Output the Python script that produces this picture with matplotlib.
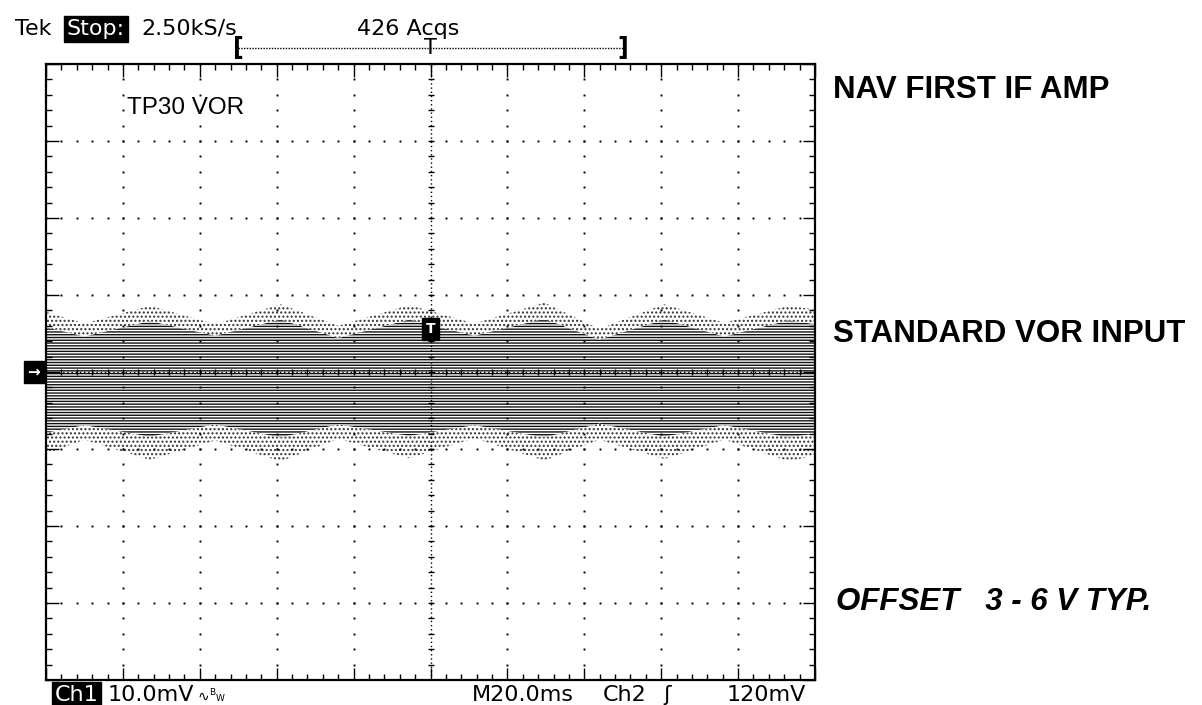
import numpy as np
import matplotlib
matplotlib.use("Agg")
import matplotlib.pyplot as plt
from matplotlib import transforms

# ---------------- data ----------------
# time axis in ms (20 ms/div, 10 div), amplitude in mV (10 mV/div, 8 div)
t_env = [-100, -90, -73, -56, -39, -24, -5.5, 11.4, 29.6, 43.9, 60.8, 76.4, 93.2, 100]
outer_top = [7.8, 6.3, 8.6, 6.2, 8.8, 6.0, 8.7, 6.3, 9.0, 5.6, 8.8, 6.4, 8.6, 8.1]
core_top = [5.8, 4.6, 6.6, 4.7, 6.8, 4.4, 6.8, 4.7, 6.9, 4.2, 6.8, 4.6, 6.7, 6.2]
core_bot = [-7.9, -6.9, -8.4, -6.8, -8.5, -6.8, -8.3, -6.9, -8.5, -6.7, -8.4, -6.9, -8.5, -8.0]
outer_bot = [-10.6, -8.8, -11.4, -8.9, -11.6, -8.7, -11.2, -8.6, -11.5, -8.8, -11.3, -8.8, -11.6, -10.8]

trigger_pos_ms = 0.0
trigger_level_mv = 5.6
record_window_ms = [-50, 50]

header_left = ["Tek", "Stop:", "2.50kS/s"]
header_acqs = "426 Acqs"
footer_items = ["Ch1", "10.0mV", "M20.0ms", "Ch2", "120mV"]
probe_label = "TP30 VOR"
side_labels = ["NAV FIRST IF AMP", "STANDARD VOR INPUT", "OFFSET   3 - 6 V TYP."]

# ---------------- figure ----------------
W, H = 1202, 705
fig = plt.figure(figsize=(W / 100, H / 100), dpi=100)
fig.patch.set_facecolor("white")
L, R, T, B = 46, 815, 64, 680
ax = fig.add_axes([L / W, 1 - B / H, (R - L) / W, (B - T) / H])
ax.set_xlim(-100, 100)
ax.set_ylim(-40, 40)
ax.set_facecolor("white")

def px(x, y):
    return x / W, 1 - y / H

plt.rcParams["hatch.linewidth"] = 1.0

# signal band: sparse outer fringe and dense core
ax.fill_between(t_env, core_top, outer_top, facecolor="white", edgecolor="#333333",
                hatch="....", linewidth=0, zorder=1)
ax.fill_between(t_env, outer_bot, core_bot, facecolor="white", edgecolor="#333333",
                hatch="....", linewidth=0, zorder=1)
ax.fill_between(t_env, core_bot, core_top, facecolor="white", edgecolor="#111111",
                hatch="------", linewidth=0, zorder=1)

# graticule
minor_x = np.arange(-100, 101, 4)
major_x = np.arange(-80, 81, 20)
minor_y = np.arange(-40, 41, 2)
major_y = np.arange(-30, 31, 10)
gx, gy = np.meshgrid(major_x[major_x != 0], minor_y)
ax.plot(gx.ravel(), gy.ravel(), "s", ms=1.4, mew=0, color="black", zorder=3)
gx, gy = np.meshgrid(minor_x, major_y[major_y != 0])
ax.plot(gx.ravel(), gy.ravel(), "s", ms=1.4, mew=0, color="black", zorder=3)
# center cross with ticks
ax.axvline(0, ls=(0, (1, 2)), lw=1, color="black", zorder=3)
ax.axhline(0, ls=(0, (1, 2)), lw=1, color="black", zorder=3)
ax.plot(np.zeros_like(minor_y), minor_y, "_", ms=5, mew=1, color="black", zorder=3)
ax.plot(minor_x, np.zeros_like(minor_x), "|", ms=5, mew=1, color="black", zorder=3)

ax.set_xticks(np.arange(-100, 101, 20))
ax.set_xticks(minor_x, minor=True)
ax.set_yticks(np.arange(-40, 41, 10))
ax.set_yticks(minor_y, minor=True)
ax.tick_params(which="both", direction="in", top=True, right=True,
               labelbottom=False, labelleft=False, color="black")
ax.tick_params(which="major", length=9, width=1)
ax.tick_params(which="minor", length=4, width=1)
for s in ax.spines.values():
    s.set_linewidth(1.6)
    s.set_color("black")

# ground marker and trigger marker
ax.annotate("\u2192", xy=(-100, 0), xytext=(-12, 0), textcoords="offset pixels",
            ha="center", va="center", color="white", fontsize=11, fontweight="bold",
            bbox=dict(boxstyle="square,pad=0.25", fc="black", ec="black"),
            annotation_clip=False, zorder=5)
ax.annotate("T", xy=(trigger_pos_ms, trigger_level_mv), ha="center", va="center",
            color="white", fontsize=10, fontweight="bold",
            bbox=dict(boxstyle="square,pad=0.3", fc="black", ec="black"), zorder=5)

ax.text(-79, 1 - (108 - T) / (B - T), probe_label,
        transform=transforms.blended_transform_factory(ax.transData, ax.transAxes),
        fontsize=17.5, family="Liberation Sans", va="center", ha="left")

# record window bracket above the screen
trans = transforms.blended_transform_factory(ax.transData, fig.transFigure)
yb = 1 - 48 / H
ax.plot(record_window_ms, [yb, yb], transform=trans, ls=(0, (1, 1)), lw=1,
        color="black", clip_on=False)
for xb, s in zip(record_window_ms, ["[", "]"]):
    ax.text(xb, yb, s, transform=trans, ha="center", va="center", fontsize=17,
            fontweight="bold", clip_on=False)
ax.text(trigger_pos_ms, yb, "T", transform=trans, ha="center", va="center",
        fontsize=15, clip_on=False)

# header
font = dict(family="DejaVu Sans", fontsize=16)
fig.text(*px(15, 35), header_left[0], va="baseline", ha="left", **font)
fig.text(*px(67, 35), header_left[1], va="baseline", ha="left", color="white",
         bbox=dict(boxstyle="square,pad=0.12", fc="black", ec="black"), **font)
fig.text(*px(141, 35), header_left[2], va="baseline", ha="left", **font)
fig.text(*px(357, 35), header_acqs, va="baseline", ha="left", **font)

# footer
fig.text(*px(55, 701), footer_items[0], va="baseline", ha="left", color="white",
         bbox=dict(boxstyle="square,pad=0.12", fc="black", ec="black"), **font)
t_mv = fig.text(*px(108, 701), footer_items[1], va="baseline", ha="left", **font)
fig.canvas.draw()
x_end = t_mv.get_window_extent().x1
fig.text((x_end + 3) / W, 1 - 701 / H, "\u223f", va="baseline", ha="left",
         family="DejaVu Sans", fontsize=10)
fig.text((x_end + 15) / W, 1 - 695 / H, "B", va="baseline", ha="left",
         family="DejaVu Sans", fontsize=6.5)
fig.text((x_end + 21) / W, 1 - 701 / H, "W", va="baseline", ha="left",
         family="DejaVu Sans", fontsize=6.5)
fig.text(*px(472, 701), footer_items[2], va="baseline", ha="left", **font)
fig.text(*px(603, 701), footer_items[3], va="baseline", ha="left", **font)
fig.text(*px(663, 701), "\u0283", va="baseline", ha="left", **font)
fig.text(*px(727, 701), footer_items[4], va="baseline", ha="left", **font)

# side annotations
fig.text(*px(833, 98), side_labels[0], va="baseline", ha="left",
         family="Liberation Sans", fontweight="bold", fontsize=22.5)
fig.text(*px(833, 342), side_labels[1], va="baseline", ha="left",
         family="Liberation Sans", fontweight="bold", fontsize=22.5)
fig.text(*px(836, 610), side_labels[2], va="baseline", ha="left",
         family="Liberation Sans", fontweight="bold", fontstyle="italic", fontsize=22.5)

fig.savefig("out.png", dpi=100, facecolor="white")
